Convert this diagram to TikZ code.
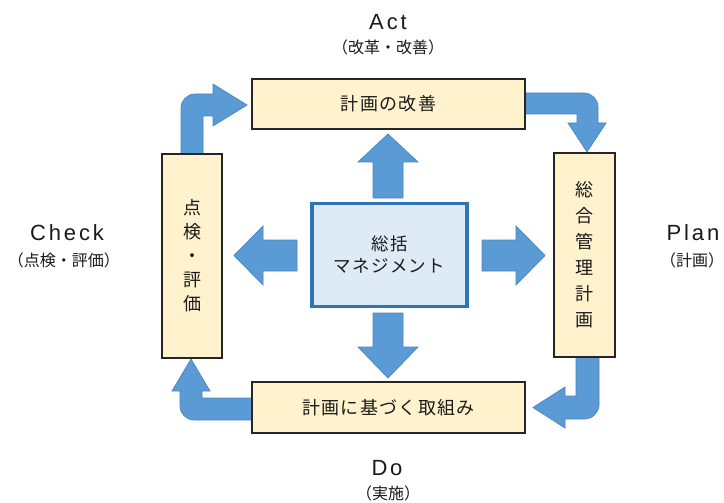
\documentclass[tikz,border=0pt]{standalone}
\usepackage{fontspec}
\setmainfont{Noto Sans CJK JP}
\newfontfamily\jp[LetterSpace=7]{Noto Sans CJK JP}
\newfontfamily\jpplain{Noto Sans CJK JP}
\newfontfamily\lat[LetterSpace=13]{Liberation Sans}
\definecolor{arrowfill}{HTML}{5B9BD5}
\definecolor{arrowline}{HTML}{4A86C5}
\definecolor{boxfill}{HTML}{FFF2CC}
\definecolor{boxline}{HTML}{262626}
\definecolor{cfill}{HTML}{DEEBF7}
\definecolor{cline}{HTML}{2E75B6}
\definecolor{txt}{HTML}{1A1A1A}
\tikzset{
  blockarrow/.style={fill=arrowfill, draw=arrowline, line width=0.7pt, line join=miter},
  phasebox/.style={draw=boxline, fill=boxfill, line width=1.1pt, inner sep=0pt, text=txt,
    font=\jp\fontsize{18}{22}\selectfont},
  vbox/.style={phasebox, align=center},
  centerbox/.style={draw=cline, fill=cfill, line width=3.2pt, inner sep=0pt, align=center, text=txt,
    font=\jp\fontsize{17.5}{22}\selectfont},
  latlabel/.style={anchor=base, inner sep=0pt, text=txt, font=\lat\fontsize{22}{24}\selectfont},
  parlabel/.style={inner sep=0pt, text=txt, font=\jpplain\fontsize{16}{18}\selectfont}
}
\begin{document}
\begin{tikzpicture}[x=1pt,y=-1pt]
\useasboundingbox (0,0) rectangle (724,503);
\fill[white] (0,0) rectangle (724,503);

% straight arrows from the centre box
\draw[blockarrow] (373,198) -- (373,162) -- (358,162) -- (388,134) -- (418,162) -- (403,162) -- (403,198) -- cycle;
\draw[blockarrow] (373,313) -- (373,347) -- (358,347) -- (388,378) -- (418,347) -- (403,347) -- (403,313) -- cycle;
\draw[blockarrow] (297,240) -- (263,240) -- (263,226) -- (234,255.5) -- (263,285) -- (263,271) -- (297,271) -- cycle;
\draw[blockarrow] (482,240) -- (516,240) -- (516,226) -- (545,255.5) -- (516,285) -- (516,271) -- (482,271) -- cycle;

% bent arrows of the cycle
\draw[blockarrow] (181,154) -- (181,108) .. controls (181,100.3) and (187.3,94) .. (195,94) -- (213,94) -- (213,84) -- (247,105) -- (213,126) -- (213,116) -- (203,116) -- (203,154) -- cycle;
\draw[blockarrow] (526,93) -- (584,93) .. controls (591.7,93) and (598,99.3) .. (598,107) -- (598,123) -- (606,123) -- (587,152) -- (568,123) -- (577,123) -- (577,114) -- (526,114) -- cycle;
\draw[blockarrow] (576,357) -- (599,357) -- (599,405) .. controls (599,412.7) and (591.7,419) .. (585,419) -- (565,419) -- (565,428) -- (533,407.5) -- (565,387) -- (565,396) -- (576,396) -- cycle;
\draw[blockarrow] (252,398) -- (252,420) -- (194,420) .. controls (186.3,420) and (180,413.7) .. (180,406) -- (180,391) -- (172,391) -- (191,359) -- (210,391) -- (202,391) -- (202,398) -- cycle;

% boxes
\node[phasebox, minimum width=273pt, minimum height=50pt] (act) at (388.5,104) {計画の改善};
\node[phasebox, minimum width=273pt, minimum height=51pt] (do) at (388.5,407.5) {計画に基づく取組み};
\node[vbox, minimum width=60pt, minimum height=204pt, font=\jpplain\fontsize{18}{24}\selectfont] (check) at (192,256) {点\\検\\・\\評\\価};
\node[vbox, minimum width=61pt, minimum height=204pt, font=\jpplain\fontsize{18}{26}\selectfont] (plan) at (584.5,255) {総\\合\\管\\理\\計\\画};
\node[centerbox, minimum width=155pt, minimum height=103pt] (mg) at (389.5,255) {総括\\マネジメント};

% labels
\node[latlabel] (actl) at (388,30) {Act};
\node[parlabel] (actp) at (388,47) {（改革・改善）};
\node[latlabel] (checkl) at (67,240) {Check};
\node[parlabel] (checkp) at (64,260) {（点検・評価）};
\node[latlabel] (planl) at (693,240) {Plan};
\node[parlabel] (planp) at (692,260) {（計画）};
\node[latlabel] (dol) at (387,475) {Do};
\node[parlabel] (dop) at (388,493) {（実施）};
\end{tikzpicture}
\end{document}
